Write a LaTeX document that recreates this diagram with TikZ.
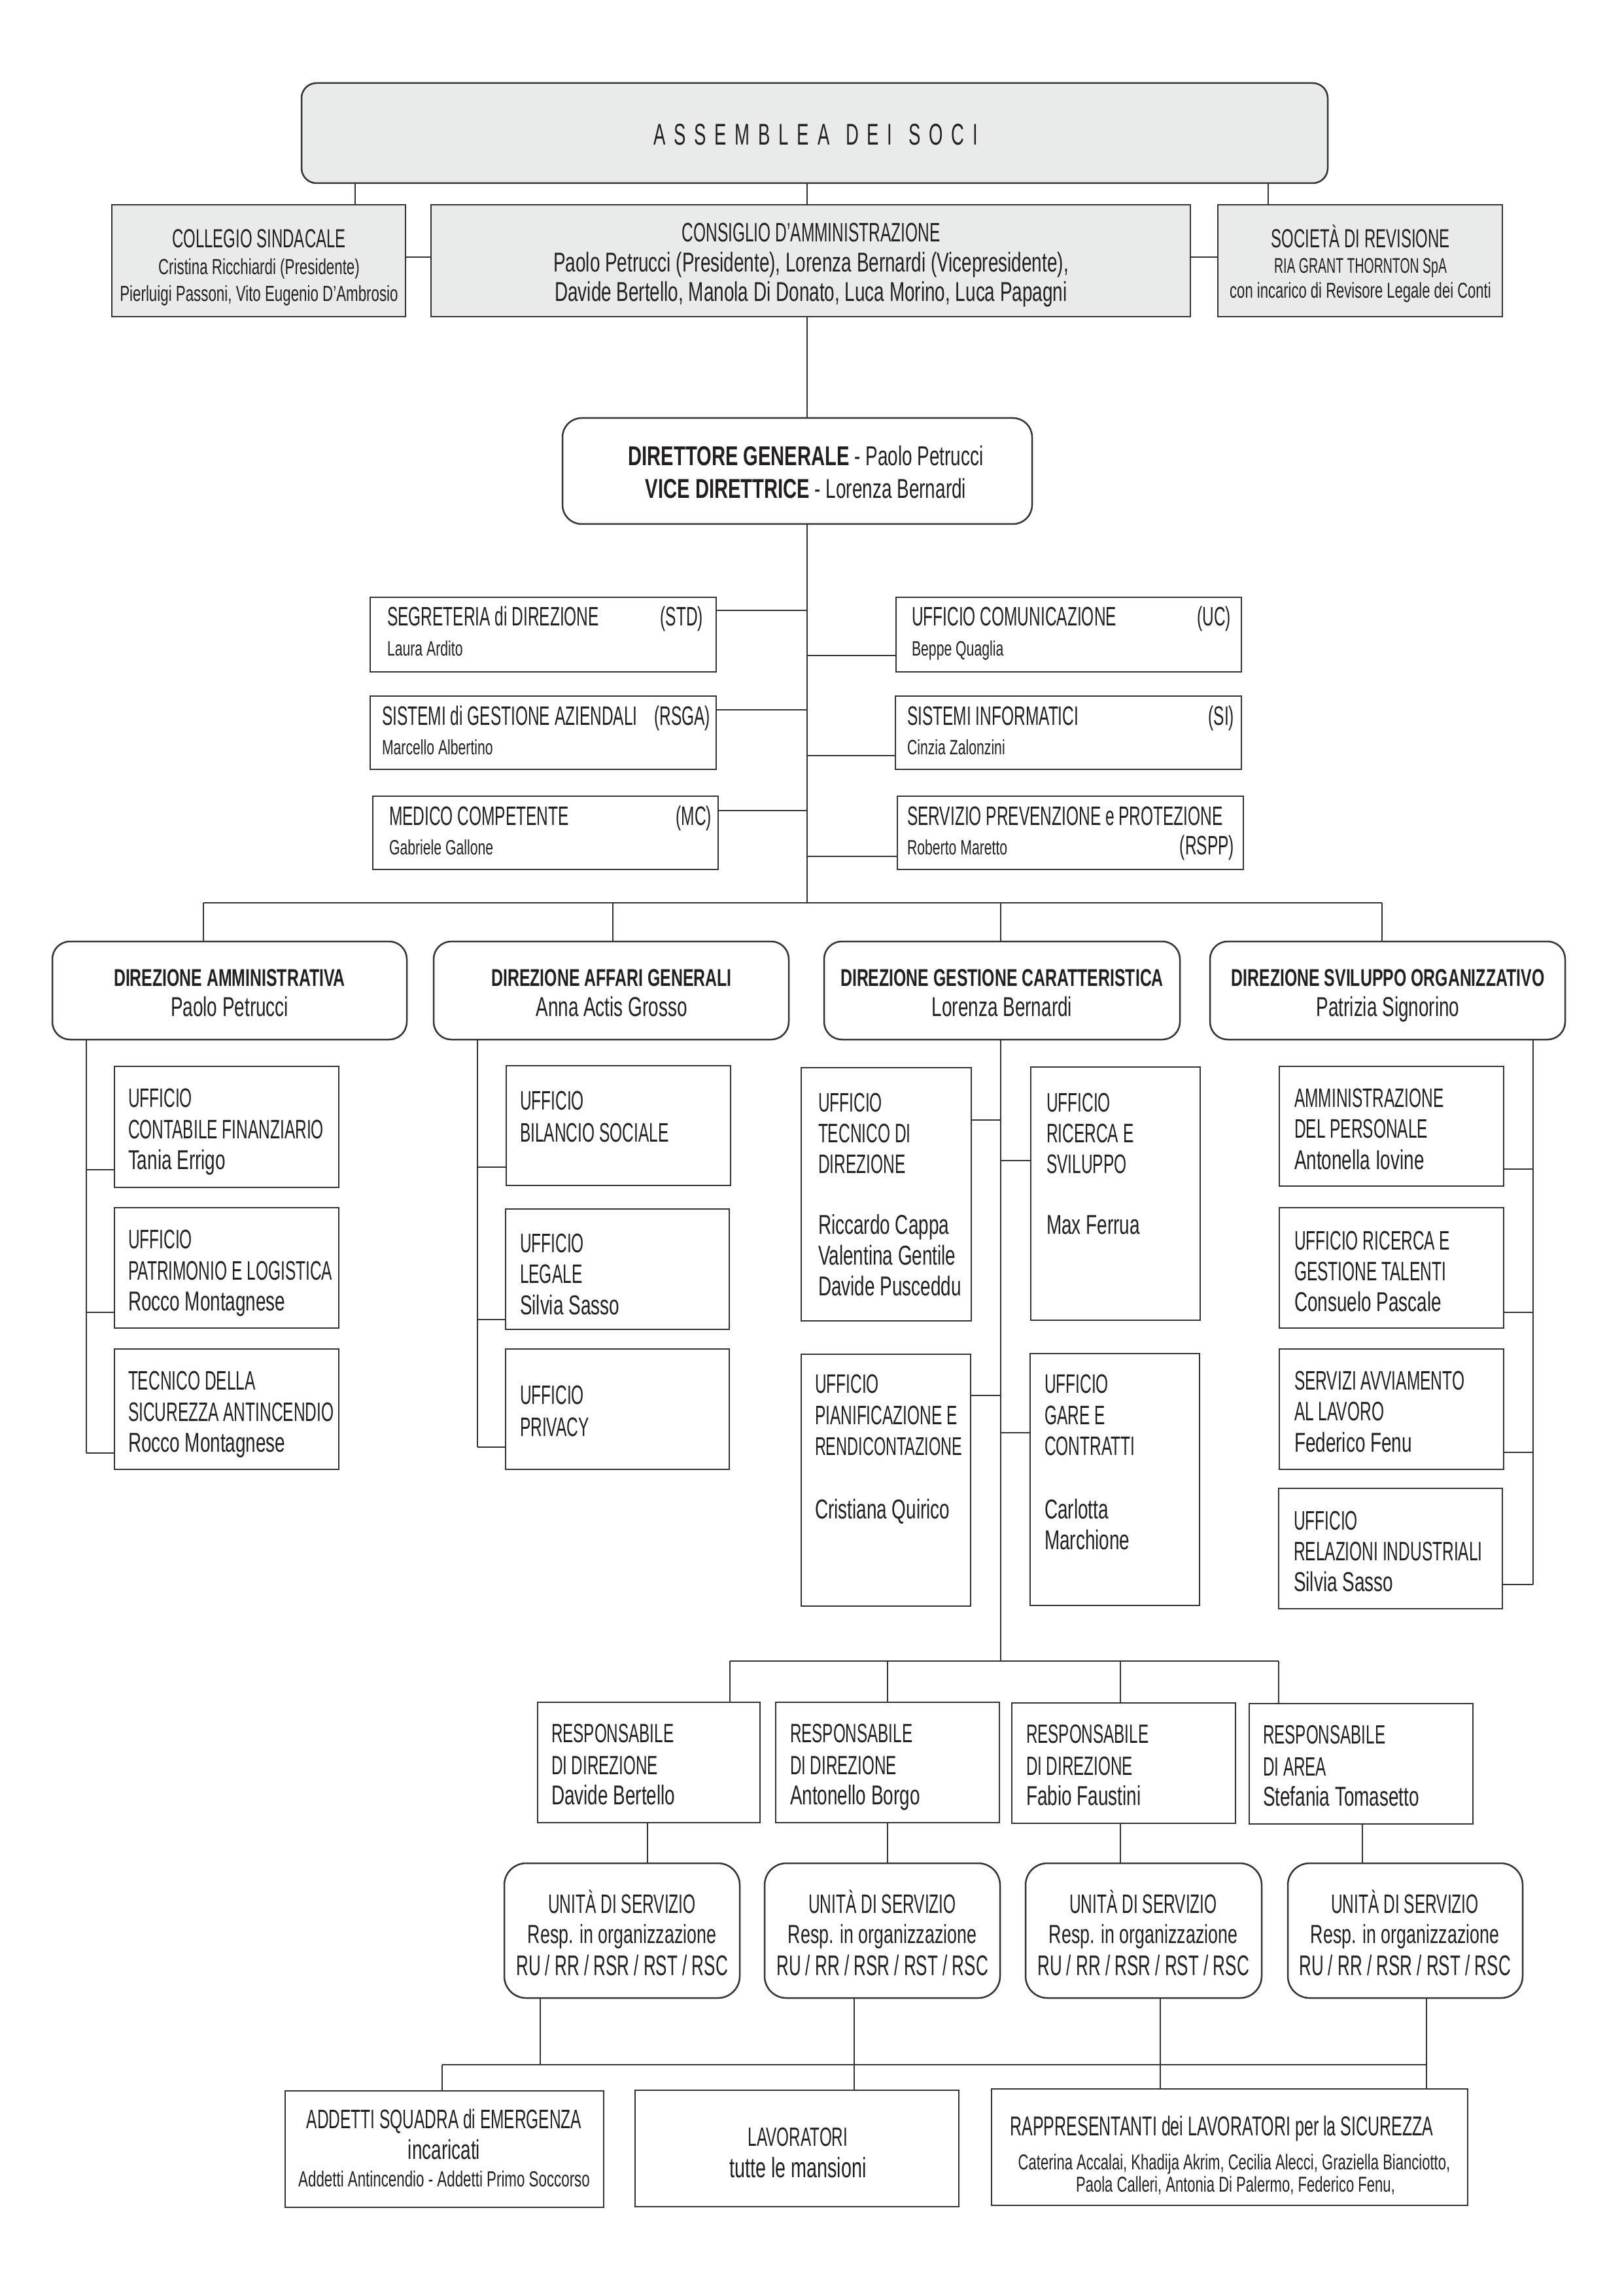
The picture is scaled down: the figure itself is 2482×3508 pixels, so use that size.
\documentclass[tikz,border=0pt]{standalone}
\usepackage{fontspec}
\setmainfont{Liberation Sans}[FakeStretch=0.6]
\newfontfamily\nm{Liberation Sans}[FakeStretch=0.67]
\newfontfamily\bd{Liberation Sans}[FakeStretch=0.67]
\newfontfamily\bdg{Liberation Sans}[FakeStretch=0.70]
\newfontfamily\asmf{Liberation Sans}[FakeStretch=0.6,LetterSpace=28]
\usetikzlibrary{fit,calc}
\definecolor{lc}{HTML}{333333}
\definecolor{gf}{HTML}{E9EBEB}
\definecolor{tc}{HTML}{231F20}
\tikzset{
 bx/.style={draw=lc, line width=0.6pt, inner sep=0pt, outer sep=0pt, rectangle},
 gbx/.style={bx, fill=gf},
 rbx/.style={bx, rounded corners=#1},
 ln/.style={draw=lc, line width=0.45pt},
 lnt/.style={draw=lc, line width=0.7pt},
 tl/.style={inner sep=0pt, outer sep=0pt, anchor=base west, text=tc},
 tm/.style={inner sep=0pt, outer sep=0pt, anchor=base, text=tc},
 tr/.style={inner sep=0pt, outer sep=0pt, anchor=base east, text=tc},
 fm/.style={font=\fontsize{#1pt}{#1pt}\selectfont},
 fn/.style={font=\nm\fontsize{#1pt}{#1pt}\selectfont},
 fb/.style={font=\bd\bfseries\fontsize{#1pt}{#1pt}\selectfont},
}
\begin{document}
\begin{tikzpicture}[x=0.24pt,y=-0.24pt]
\fill[white] (0,0) rectangle (2482,3508);
\useasboundingbox (0,0) rectangle (2482,3508);

% ---------- boxes ----------
\node[gbx, rounded corners=5.5pt, fit={(461,127) (2030,280)}] (asm) {};
\node[gbx, fit={(171,313) (620,484)}] (col) {};
\node[gbx, fit={(659,313) (1820,484)}] (cda) {};
\node[gbx, fit={(1862,313) (2297,484)}] (soc) {};
\node[rbx=7pt, fit={(860,639) (1578,801)}] (dg) {};

\node[bx, fit={(566,913) (1095,1027)}] (std) {};
\node[bx, fit={(1370,913) (1898,1027)}] (uc) {};
\node[bx, fit={(566,1064) (1095,1176)}] (rsga) {};
\node[bx, fit={(1369,1064) (1898,1176)}] (si) {};
\node[bx, fit={(570,1217) (1098,1329)}] (mc) {};
\node[bx, fit={(1372,1217) (1901,1329)}] (rspp) {};

\node[rbx=6.5pt, fit={(80,1439) (622,1589)}] (dam) {};
\node[rbx=6.5pt, fit={(663,1439) (1206,1589)}] (dag) {};
\node[rbx=6.5pt, fit={(1260,1439) (1804,1589)}] (dgc) {};
\node[rbx=6.5pt, fit={(1850,1439) (2393,1589)}] (dso) {};

\node[bx, fit={(175,1630) (518,1815)}] (ucf) {};
\node[bx, fit={(175,1846) (518,2030)}] (upl) {};
\node[bx, fit={(175,2062) (518,2246)}] (tsa) {};
\node[bx, fit={(774,1629) (1117,1812)}] (ubs) {};
\node[bx, fit={(773,1848) (1115,2032)}] (ule) {};
\node[bx, fit={(773,2062) (1115,2246)}] (upv) {};
\node[bx, fit={(1225,1632) (1485,2019)}] (utd) {};
\node[bx, fit={(1576,1631) (1835,2018)}] (urs) {};
\node[bx, fit={(1225,2070) (1484,2455)}] (upr) {};
\node[bx, fit={(1575,2069) (1834,2454)}] (ugc) {};
\node[bx, fit={(1956,1630) (2299,1813)}] (adp) {};
\node[bx, fit={(1956,1846) (2299,2030)}] (urg) {};
\node[bx, fit={(1956,2062) (2299,2246)}] (sal) {};
\node[bx, fit={(1955,2275) (2297,2459)}] (uri) {};

\node[bx, fit={(822,2602) (1162,2786)}] (r1) {};
\node[bx, fit={(1186,2602) (1528,2786)}] (r2) {};
\node[bx, fit={(1547,2603) (1889,2787)}] (r3) {};
\node[bx, fit={(1910,2604) (2252,2788)}] (r4) {};

\node[rbx=8pt, fit={(771,2848) (1131,3054)}] (u1) {};
\node[rbx=8pt, fit={(1169,2848) (1529,3054)}] (u2) {};
\node[rbx=8pt, fit={(1568,2848) (1929,3054)}] (u3) {};
\node[rbx=8pt, fit={(1969,2848) (2328,3054)}] (u4) {};

\node[bx, fit={(436,3196) (923,3374)}] (add) {};
\node[bx, fit={(971,3195) (1466,3373)}] (lav) {};
\node[bx, fit={(1516,3193) (2244,3371)}] (rap) {};

% ---------- connector coordinates ----------
\coordinate (xcol) at (543,0);
\coordinate (xm) at (1234,0);
\coordinate (xsoc) at (1939,0);
\coordinate (bus1) at (0,1380);
\coordinate (xdam) at (311,0);
\coordinate (xdag) at (937,0);
\coordinate (xdgc) at (1530,0);
\coordinate (xdso) at (2113,0);
\coordinate (xa) at (132,0);
\coordinate (xb) at (730,0);
\coordinate (xd) at (2344,0);
\coordinate (bus2) at (0,2539);
\coordinate (xr1) at (1116,0);
\coordinate (xr2) at (1357,0);
\coordinate (xr3) at (1713,0);
\coordinate (xr4) at (1955,0);
\coordinate (xs1) at (990,0);
\coordinate (xs2) at (1357,0);
\coordinate (xs3) at (1713,0);
\coordinate (xs4) at (2083,0);
\coordinate (bus3) at (0,3156);
\coordinate (xt1) at (826,0);
\coordinate (xt2) at (1306,0);
\coordinate (xt3) at (1774,0);
\coordinate (xt4) at (2181,0);
\coordinate (xt0) at (676,0);

% ---------- connectors ----------
\draw[ln] (xcol |- asm.south) -- (xcol |- col.north);
\draw[ln] (xm |- asm.south) -- (xm |- cda.north);
\draw[ln] (xsoc |- asm.south) -- (xsoc |- soc.north);
\draw[lnt] ($(col.north east)+(0,80)$) coordinate (kcl) -- (cda.west |- kcl);
\draw[lnt] ($(cda.north east)+(0,80)$) coordinate (kcr) -- (soc.west |- kcr);
\draw[ln] (xm |- cda.south) -- (xm |- dg.north);
\draw[ln] (xm |- dg.south) -- (xm |- bus1);

\draw[ln] ($(std.north east)+(0,20)$) coordinate (kstd) -- (xm |- kstd);
\draw[ln] ($(uc.south west)+(0,-25)$) coordinate (kuc) -- (xm |- kuc);
\draw[ln] ($(rsga.north east)+(0,21)$) coordinate (krsga) -- (xm |- krsga);
\draw[ln] ($(si.south west)+(0,-21)$) coordinate (ksi) -- (xm |- ksi);
\draw[ln] ($(mc.north east)+(0,22)$) coordinate (kmc) -- (xm |- kmc);
\draw[ln] ($(rspp.south west)+(0,-20)$) coordinate (krspp) -- (xm |- krspp);

\draw[ln] (xdam |- bus1) -- (xdso |- bus1);
\draw[ln] (xdam |- bus1) -- (xdam |- dam.north);
\draw[ln] (xdag |- bus1) -- (xdag |- dag.north);
\draw[ln] (xdgc |- bus1) -- (xdgc |- dgc.north);
\draw[ln] (xdso |- bus1) -- (xdso |- dso.north);

\draw[ln] ($(ucf.south west)+(0,-27)$) coordinate (kucf) -- (xa |- kucf);
\draw[ln] ($(upl.south west)+(0,-24)$) coordinate (kupl) -- (xa |- kupl);
\draw[ln] ($(tsa.south west)+(0,-25)$) coordinate (ktsa) -- (xa |- ktsa);
\draw[ln] (xa |- dam.south) -- (xa |- ktsa);

\draw[ln] ($(ubs.south west)+(0,-28)$) coordinate (kubs) -- (xb |- kubs);
\draw[ln] ($(ule.south west)+(0,-15)$) coordinate (kule) -- (xb |- kule);
\draw[ln] ($(upv.south west)+(0,-34)$) coordinate (kupv) -- (xb |- kupv);
\draw[ln] (xb |- dag.south) -- (xb |- kupv);

\draw[ln] ($(utd.north east)+(0,80)$) coordinate (kutd) -- (xdgc |- kutd);
\draw[ln] ($(urs.north west)+(0,143)$) coordinate (kurs) -- (xdgc |- kurs);
\draw[ln] ($(upr.north east)+(0,63)$) coordinate (kupr) -- (xdgc |- kupr);
\draw[ln] ($(ugc.north west)+(0,121)$) coordinate (kugc) -- (xdgc |- kugc);
\draw[ln] (xdgc |- dgc.south) -- (xdgc |- bus2);

\draw[ln] ($(adp.south east)+(0,-26)$) coordinate (kadp) -- (xd |- kadp);
\draw[ln] ($(urg.south east)+(0,-24)$) coordinate (kurg) -- (xd |- kurg);
\draw[ln] ($(sal.south east)+(0,-26)$) coordinate (ksal) -- (xd |- ksal);
\draw[ln] ($(uri.south east)+(0,-37)$) coordinate (kuri) -- (xd |- kuri);
\draw[ln] (xd |- dso.south) -- (xd |- kuri);

\draw[ln] (xr1 |- bus2) -- (xr4 |- bus2);
\draw[ln] (xr1 |- bus2) -- (xr1 |- r1.north);
\draw[ln] (xr2 |- bus2) -- (xr2 |- r2.north);
\draw[ln] (xr3 |- bus2) -- (xr3 |- r3.north);
\draw[ln] (xr4 |- bus2) -- (xr4 |- r4.north);

\draw[ln] (xs1 |- r1.south) -- (xs1 |- u1.north);
\draw[ln] (xs2 |- r2.south) -- (xs2 |- u2.north);
\draw[ln] (xs3 |- r3.south) -- (xs3 |- u3.north);
\draw[ln] (xs4 |- r4.south) -- (xs4 |- u4.north);

\draw[ln] (xt1 |- u1.south) -- (xt1 |- bus3);
\draw[ln] (xt2 |- u2.south) -- (xt2 |- lav.north);
\draw[ln] (xt3 |- u3.south) -- (xt3 |- rap.north);
\draw[ln] (xt4 |- u4.south) -- (xt4 |- rap.north);
\draw[lnt] (xt0 |- bus3) -- (xt4 |- bus3);
\draw[ln] (xt0 |- bus3) -- (xt0 |- add.north);

% ---------- texts ----------
\node[tm, font=\asmf\fontsize{11pt}{11pt}\selectfont] (tasm) at (1247,222) {ASSEMBLEA\hspace{1pt} DEI\hspace{1pt} SOCI};

\node[tm, fm=9.6] (tcol1) at (396,379) {COLLEGIO SINDACALE};
\node[tm, fn=8] (tcol2) at (396,420) {Cristina Ricchiardi (Presidente)};
\node[tm, fn=8] (tcol3) at (396,461) {Pierluigi Passoni, Vito Eugenio D’Ambrosio};

\node[tm, fm=9.8] (tcda1) at (1240,370) {CONSIGLIO D’AMMINISTRAZIONE};
\node[tm, fn=10] (tcda2) at (1240,416) {Paolo Petrucci (Presidente), Lorenza Bernardi (Vicepresidente),};
\node[tm, fn=10] (tcda3) at (1240,461) {Davide Bertello, Manola Di Donato, Luca Morino, Luca Papagni};

\node[tm, fm=9.6] (tsoc1) at (2080,379) {SOCIETÀ DI REVISIONE};
\node[tm, fm=7.8] (tsoc2) at (2080,418) {RIA GRANT THORNTON SpA};
\node[tm, fn=7.9] (tsoc3) at (2080,456) {con incarico di Revisore Legale dei Conti};

\node[tm, fn=10] (tdg1) at (1232,712) {{\bdg\bfseries DIRETTORE GENERALE} - Paolo Petrucci};
\node[tm, fn=10] (tdg2) at (1232,762) {{\bdg\bfseries VICE DIRETTRICE} - Lorenza Bernardi};

\node[tl, fm=9.8] (tstd1) at (592,957) {SEGRETERIA di DIREZIONE};
\node[tr, fm=9.8] (tstd2) at (1075,957) {(STD)};
\node[tl, fn=7.6] (tstd3) at (592,1002) {Laura Ardito};
\node[tl, fm=9.8] (tuc1) at (1394,957) {UFFICIO COMUNICAZIONE};
\node[tr, fm=9.8] (tuc2) at (1882,957) {(UC)};
\node[tl, fn=7.6] (tuc3) at (1394,1002) {Beppe Quaglia};
\node[tl, fm=9.8] (trsga1) at (584,1108) {SISTEMI di GESTIONE AZIENDALI};
\node[tr, fm=9.8] (trsga2) at (1086,1108) {(RSGA)};
\node[tl, fn=7.6] (trsga3) at (584,1153) {Marcello Albertino};
\node[tl, fm=9.8] (tsi1) at (1387,1108) {SISTEMI INFORMATICI};
\node[tr, fm=9.8] (tsi2) at (1887,1108) {(SI)};
\node[tl, fn=7.6] (tsi3) at (1387,1153) {Cinzia Zalonzini};
\node[tl, fm=9.8] (tmc1) at (595,1261) {MEDICO COMPETENTE};
\node[tr, fm=9.8] (tmc2) at (1088,1261) {(MC)};
\node[tl, fn=7.6] (tmc3) at (595,1306) {Gabriele Gallone};
\node[tl, fm=9.8] (trspp1) at (1387,1261) {SERVIZIO PREVENZIONE e PROTEZIONE};
\node[tr, fm=9.8] (trspp2) at (1887,1306) {(RSPP)};
\node[tl, fn=7.6] (trspp3) at (1387,1306) {Roberto Maretto};

\node[tm, fb=8.9] (tdam1) at (351,1507) {DIREZIONE AMMINISTRATIVA};
\node[tm, fn=10] (tdam2) at (351,1553) {Paolo Petrucci};
\node[tm, fb=8.9] (tdag1) at (935,1507) {DIREZIONE AFFARI GENERALI};
\node[tm, fn=10] (tdag2) at (935,1553) {Anna Actis Grosso};
\node[tm, fb=8.9] (tdgc1) at (1532,1507) {DIREZIONE GESTIONE CARATTERISTICA};
\node[tm, fn=10] (tdgc2) at (1532,1553) {Lorenza Bernardi};
\node[tm, fb=8.9] (tdso1) at (2122,1507) {DIREZIONE SVILUPPO ORGANIZZATIVO};
\node[tm, fn=10] (tdso2) at (2122,1553) {Patrizia Signorino};

\node[tl, fm=9.8] (tucf1) at (196,1692) {UFFICIO};
\node[tl, fm=9.8] (tucf2) at (196,1740) {CONTABILE FINANZIARIO};
\node[tl, fn=10] (tucf3) at (196,1787) {Tania Errigo};
\node[tl, fm=9.8] (tupl1) at (196,1908) {UFFICIO};
\node[tl, fm=9.8] (tupl2) at (196,1956) {PATRIMONIO E LOGISTICA};
\node[tl, fn=10] (tupl3) at (196,2003) {Rocco Montagnese};
\node[tl, fm=9.8] (ttsa1) at (196,2124) {TECNICO DELLA};
\node[tl, fm=9.8] (ttsa2) at (196,2172) {SICUREZZA ANTINCENDIO};
\node[tl, fn=10] (ttsa3) at (196,2219) {Rocco Montagnese};

\node[tl, fm=9.8] (tubs1) at (795,1696) {UFFICIO};
\node[tl, fm=9.8] (tubs2) at (795,1745) {BILANCIO SOCIALE};
\node[tl, fm=9.8] (tule1) at (795,1914) {UFFICIO};
\node[tl, fm=9.8] (tule2) at (795,1961) {LEGALE};
\node[tl, fn=10] (tule3) at (795,2009) {Silvia Sasso};
\node[tl, fm=9.8] (tupv1) at (795,2146) {UFFICIO};
\node[tl, fm=9.8] (tupv2) at (795,2195) {PRIVACY};

\node[tl, fm=9.8] (tutd1) at (1251,1699) {UFFICIO};
\node[tl, fm=9.8] (tutd2) at (1251,1746) {TECNICO DI};
\node[tl, fm=9.8] (tutd3) at (1251,1793) {DIREZIONE};
\node[tl, fn=10] (tutd4) at (1251,1886) {Riccardo Cappa};
\node[tl, fn=10] (tutd5) at (1251,1933) {Valentina Gentile};
\node[tl, fn=10] (tutd6) at (1251,1980) {Davide Pusceddu};
\node[tl, fm=9.8] (turs1) at (1600,1699) {UFFICIO};
\node[tl, fm=9.8] (turs2) at (1600,1746) {RICERCA E};
\node[tl, fm=9.8] (turs3) at (1600,1793) {SVILUPPO};
\node[tl, fn=10] (turs4) at (1600,1886) {Max Ferrua};
\node[tl, fm=9.8] (tupr1) at (1246,2129) {UFFICIO};
\node[tl, fm=9.8] (tupr2) at (1246,2177) {PIANIFICAZIONE E};
\node[tl, fm=9.4] (tupr3) at (1246,2224) {RENDICONTAZIONE};
\node[tl, fn=10] (tupr4) at (1246,2321) {Cristiana Quirico};
\node[tl, fm=9.8] (tugc1) at (1597,2129) {UFFICIO};
\node[tl, fm=9.8] (tugc2) at (1597,2177) {GARE E};
\node[tl, fm=9.8] (tugc3) at (1597,2224) {CONTRATTI};
\node[tl, fn=10] (tugc4) at (1597,2321) {Carlotta};
\node[tl, fn=10] (tugc5) at (1597,2368) {Marchione};

\node[tl, fm=9.8] (tadp1) at (1979,1692) {AMMINISTRAZIONE};
\node[tl, fm=9.8] (tadp2) at (1979,1739) {DEL PERSONALE};
\node[tl, fn=10] (tadp3) at (1979,1787) {Antonella Iovine};
\node[tl, fm=9.8] (turg1) at (1979,1910) {UFFICIO RICERCA E};
\node[tl, fm=9.8] (turg2) at (1979,1957) {GESTIONE TALENTI};
\node[tl, fn=10] (turg3) at (1979,2004) {Consuelo Pascale};
\node[tl, fm=9.8] (tsal1) at (1979,2124) {SERVIZI AVVIAMENTO};
\node[tl, fm=9.8] (tsal2) at (1979,2171) {AL LAVORO};
\node[tl, fn=10] (tsal3) at (1979,2219) {Federico Fenu};
\node[tl, fm=9.8] (turi1) at (1978,2338) {UFFICIO};
\node[tl, fm=9.8] (turi2) at (1978,2385) {RELAZIONI INDUSTRIALI};
\node[tl, fn=10] (turi3) at (1978,2432) {Silvia Sasso};

\node[tl, fm=9.7] (tr11) at (843,2663) {RESPONSABILE};
\node[tl, fm=9.7] (tr12) at (843,2712) {DI DIREZIONE};
\node[tl, fn=10] (tr13) at (843,2758) {Davide Bertello};
\node[tl, fm=9.7] (tr21) at (1208,2663) {RESPONSABILE};
\node[tl, fm=9.7] (tr22) at (1208,2712) {DI DIREZIONE};
\node[tl, fn=10] (tr23) at (1208,2758) {Antonello Borgo};
\node[tl, fm=9.7] (tr31) at (1569,2664) {RESPONSABILE};
\node[tl, fm=9.7] (tr32) at (1569,2713) {DI DIREZIONE};
\node[tl, fn=10] (tr33) at (1569,2759) {Fabio Faustini};
\node[tl, fm=9.7] (tr41) at (1931,2665) {RESPONSABILE};
\node[tl, fm=9.7] (tr42) at (1931,2714) {DI AREA};
\node[tl, fn=10] (tr43) at (1931,2760) {Stefania Tomasetto};

\node[tm, fm=9.8] (tu11) at (951,2924) {UNITÀ DI SERVIZIO};
\node[tm, fn=9.6] (tu12) at (951,2970) {Resp. in organizzazione};
\node[tm, fm=10.4] (tu13) at (951,3019) {RU / RR / RSR / RST / RSC};
\node[tm, fm=9.8] (tu21) at (1349,2924) {UNITÀ DI SERVIZIO};
\node[tm, fn=9.6] (tu22) at (1349,2970) {Resp. in organizzazione};
\node[tm, fm=10.4] (tu23) at (1349,3019) {RU / RR / RSR / RST / RSC};
\node[tm, fm=9.8] (tu31) at (1748,2924) {UNITÀ DI SERVIZIO};
\node[tm, fn=9.6] (tu32) at (1748,2970) {Resp. in organizzazione};
\node[tm, fm=10.4] (tu33) at (1748,3019) {RU / RR / RSR / RST / RSC};
\node[tm, fm=9.8] (tu41) at (2148,2924) {UNITÀ DI SERVIZIO};
\node[tm, fn=9.6] (tu42) at (2148,2970) {Resp. in organizzazione};
\node[tm, fm=10.4] (tu43) at (2148,3019) {RU / RR / RSR / RST / RSC};

\node[tm, fm=9.8] (tadd1) at (679,3253) {ADDETTI SQUADRA di EMERGENZA};
\node[tm, fn=10] (tadd2) at (679,3300) {incaricati};
\node[tm, fn=8] (tadd3) at (679,3342) {Addetti Antincendio - Addetti Primo Soccorso};
\node[tm, fm=9.7] (tlav1) at (1220,3280) {LAVORATORI};
\node[tm, fn=10.3] (tlav2) at (1220,3328) {tutte le mansioni};
\node[tm, fm=10] (trap1) at (1868,3264) {RAPPRESENTANTI dei LAVORATORI per la SICUREZZA};
\node[tm, fn=7.9] (trap2) at (1887,3316) {Caterina Accalai, Khadija Akrim, Cecilia Alecci, Graziella Bianciotto,};
\node[tm, fn=7.9] (trap3) at (1889,3350) {Paola Calleri, Antonia Di Palermo, Federico Fenu,};
\end{tikzpicture}
\end{document}
